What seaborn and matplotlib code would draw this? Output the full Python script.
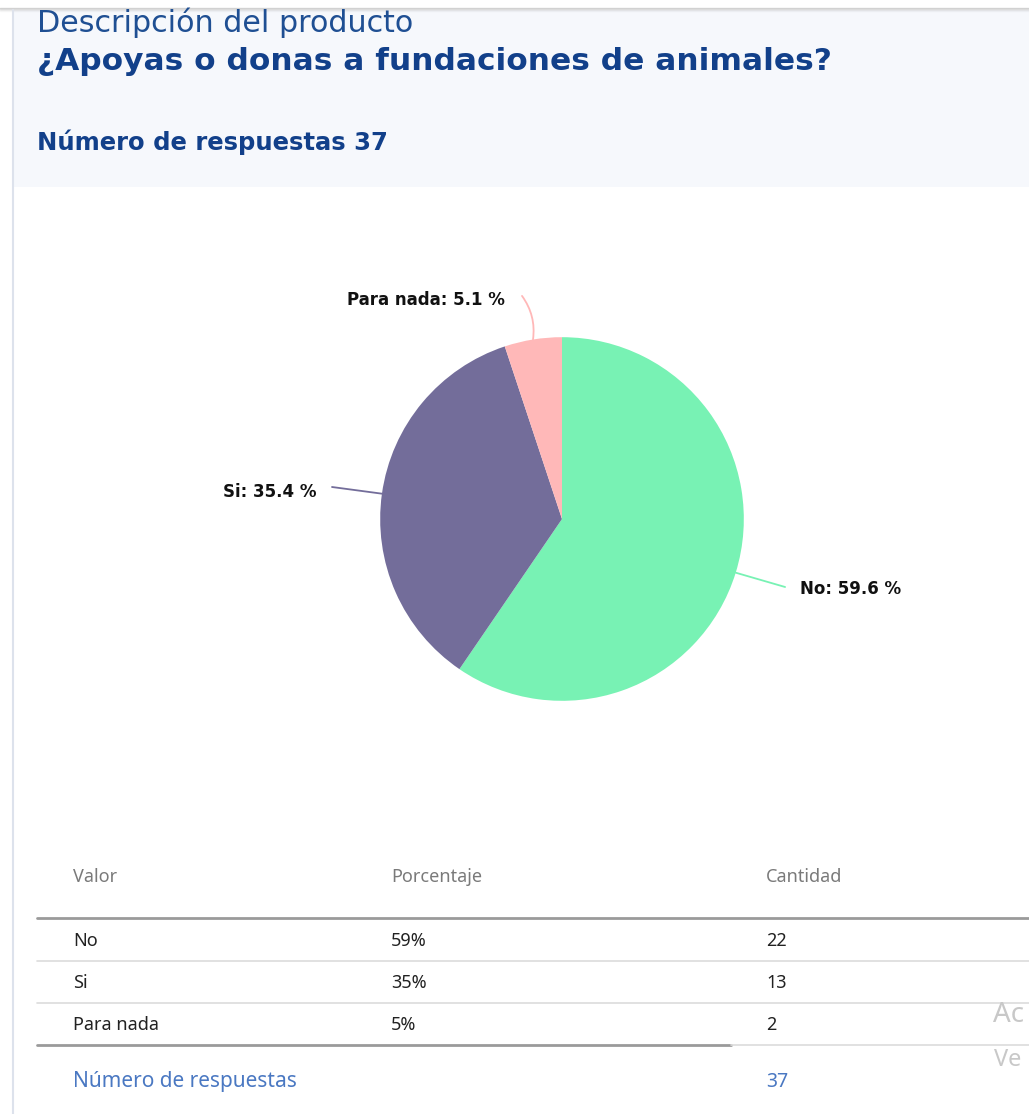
import matplotlib
matplotlib.use("Agg")
import matplotlib.pyplot as plt
import seaborn as sns
import numpy as np

# ---- data ----
categories = ["No", "Si", "Para nada"]
percentages = [59.6, 35.4, 5.1]
table_pct = ["59%", "35%", "5%"]
counts = [22, 13, 2]
total_responses = 37
title_top = "Descripción del producto"
question = "¿Apoyas o donas a fundaciones de animales?"
col_headers = ["Valor", "Porcentaje", "Cantidad"]

# ---- style ----
sns.set_theme(style="white")
plt.rcParams['font.family'] = ['DejaVu Sans']
colors = ["#78f2b4", "#736d9a", "#ffb8b8"]
TF = ["Noto Sans", "DejaVu Sans"]

W, H = 1029, 1114
fig = plt.figure(figsize=(W / 100, H / 100), dpi=100)
fig.patch.set_facecolor("white")

def fx(px):
    return px / W

def fy(py):
    return 1 - py / H

# background / header
bg = fig.add_axes([0, 0, 1, 1])
bg.set_xlim(0, W)
bg.set_ylim(H, 0)
bg.axis("off")
bg.add_patch(plt.Rectangle((12, 10), W - 12, 177, color="#f6f8fc", lw=0))
for i, a in enumerate([0.35, 0.22, 0.12, 0.06]):
    bg.plot([0, W], [8 + i, 8 + i], color="#888888", alpha=a, lw=1)
bg.plot([12.5, 12.5], [10, H], color="#dde2ec", lw=1.5)

bg.text(37, 23, title_top, color="#1f4f93", fontsize=21.7, va="center", ha="left")
bg.text(37, 61, question, color="#12408a", fontsize=22.5, fontweight="bold",
        va="center", ha="left")
bg.text(37, 142, f"Número de respuestas {total_responses}", color="#12408a",
        fontsize=17.5, fontweight="bold", va="center", ha="left")

# table
hdr_x = [73, 391, 766]
for x, t in zip(hdr_x, col_headers):
    bg.text(x, 877, t, color="#7a7a7a", fontsize=13, va="center", ha="left",
            family=TF)
bg.plot([37, W], [918, 918], color="#9a9a9a", lw=2)
row_y = [941, 983, 1025]
for y, c, p, n in zip(row_y, categories, table_pct, counts):
    for x, t in zip(hdr_x, [c, p, str(n)]):
        bg.text(x, y, t, color="#222222", fontsize=13, va="center", ha="left",
                family=TF)
for y in [961, 1003]:
    bg.plot([37, W], [y, y], color="#dcdcdc", lw=1.2)
bg.plot([37, 731], [1045, 1045], color="#9a9a9a", lw=2)
bg.plot([731, W], [1045, 1045], color="#dcdcdc", lw=1.2)
bg.text(73, 1082, "Número de respuestas", color="#4a78c2", fontsize=15,
        va="center", ha="left", family=TF)
bg.text(766, 1082, str(total_responses), color="#4a78c2", fontsize=14,
        va="center", ha="left", family=TF)
# watermark (cut by screen edge in the original)
bg.text(993, 1015, "Ac", color="#c8c8c8", fontsize=20, va="center", ha="left",
        family=TF)
bg.text(994, 1060, "Ve", color="#c8c8c8", fontsize=17, va="center", ha="left",
        family=TF)

# pie
cx, cy, half = 562, 519, 300
ax = fig.add_axes([fx(cx - half), fy(cy + half), fx(2 * half), 2 * half / H])
wedges, _ = ax.pie(percentages, colors=colors, startangle=90, counterclock=False,
                   radius=1.0, wedgeprops=dict(linewidth=0))
ax.set_xlim(-1.65, 1.65)
ax.set_ylim(-1.65, 1.65)
ax.set_aspect("equal")
ax.axis("off")

# label layout (text anchor, connector end, alignment, curvature)
label_layout = [
    ((1.31, -0.385), (1.227, -0.374), "left", 0.0),
    ((-1.353, 0.149), (-1.265, 0.176), "right", 0.0),
    ((-0.314, 1.205), (-0.22, 1.227), "right", -0.2),
]
for w, cat, pct, col, (tpos, cend, ha, rad) in zip(wedges, categories, percentages,
                                                   colors, label_layout):
    ang = np.deg2rad((w.theta1 + w.theta2) / 2)
    ex, ey = np.cos(ang), np.sin(ang)
    ax.annotate("", xy=(ex, ey), xytext=cend,
                arrowprops=dict(arrowstyle="-", color=col, lw=1.3,
                                connectionstyle=f"arc3,rad={rad}",
                                shrinkA=0, shrinkB=0),
                annotation_clip=False)
    ax.text(tpos[0], tpos[1], f"{cat}: {pct} %", ha=ha, va="center",
            fontsize=12, fontweight="bold", color="#111111", clip_on=False)

fig.savefig("out.png", dpi=100, facecolor="white")
